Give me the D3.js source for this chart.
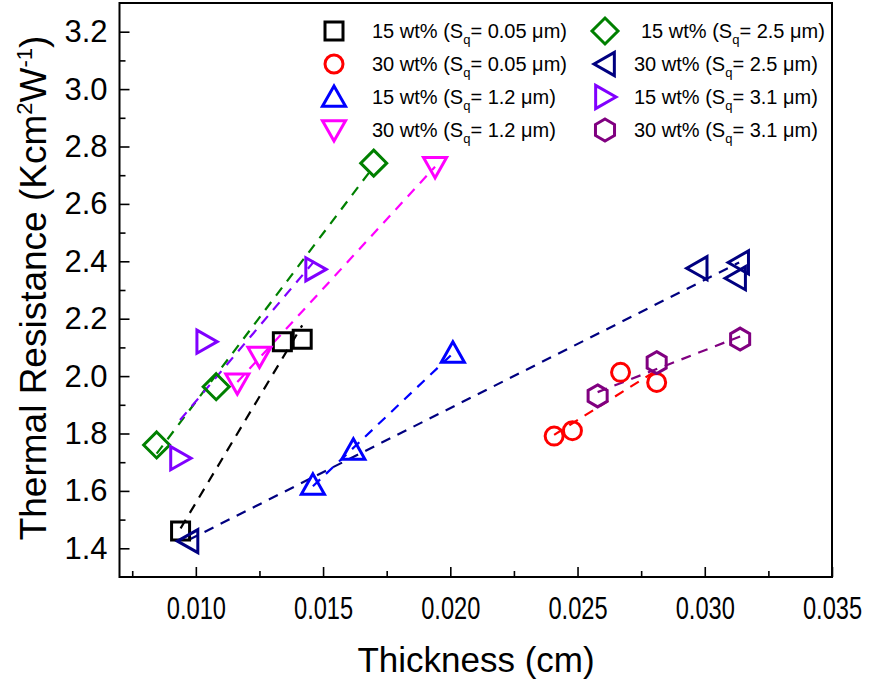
<!DOCTYPE html>
<html><head><meta charset="utf-8">
<script src="https://cdn.jsdelivr.net/npm/d3@7"></script>
<style>
body{margin:0;background:#fff}
svg text{font-family:"Liberation Sans",Arial,Helvetica,sans-serif;fill:#000}
</style>
</head><body>
<svg id="chart" width="880" height="686"></svg>
<script>
// ---------- data ----------
const xTickValues = [0.010, 0.015, 0.020, 0.025, 0.030, 0.035];
const xMinorTicks = [0.0075, 0.0125, 0.0175, 0.0225, 0.0275, 0.0325];
const yTickValues = [1.4, 1.6, 1.8, 2.0, 2.2, 2.4, 2.6, 2.8, 3.0, 3.2];
const yMinorTicks = [1.5, 1.7, 1.9, 2.1, 2.3, 2.5, 2.7, 2.9, 3.1];

const seriesLabels = ["15 wt%", "30 wt%", "15 wt%", "30 wt%", "15 wt%", "30 wt%", "15 wt%", "30 wt%"];
const seriesSq = ["0.05", "0.05", "1.2", "1.2", "2.5", "2.5", "3.1", "3.1"];
const seriesColors = ["#000000", "#ff0000", "#0000ff", "#ff00ff", "#008000", "#000080", "#8000ff", "#800080"];
const seriesShapes = ["square", "circle", "triUp", "triDown", "diamond", "triLeft", "triRight", "hexagon"];

const s15_005_x = [0.00940, 0.01340, 0.01418];
const s15_005_y = [1.460, 2.120, 2.128];
const s30_005_x = [0.02408, 0.02480, 0.02669, 0.02811];
const s30_005_y = [1.791, 1.810, 2.013, 1.978];
const s15_12_x = [0.01460, 0.01619, 0.02010];
const s15_12_y = [1.621, 1.743, 2.081];
const s30_12_x = [0.01163, 0.01250, 0.01940];
const s30_12_y = [1.975, 2.068, 2.729];
const s15_25_x = [0.00846, 0.01080, 0.01699];
const s15_25_y = [1.760, 1.963, 2.742];
const s30_25_x = [0.00971, 0.02972, 0.03135, 0.03123];
const s30_25_y = [1.425, 2.376, 2.396, 2.341];
const s15_31_x = [0.00938, 0.01041, 0.01469];
const s15_31_y = [1.714, 2.120, 2.372];
const s30_31_x = [0.02579, 0.02811, 0.03139];
const s30_31_y = [1.931, 2.047, 2.129];

const seriesX = [s15_005_x, s30_005_x, s15_12_x, s30_12_x, s15_25_x, s30_25_x, s15_31_x, s30_31_x];
const seriesY = [s15_005_y, s30_005_y, s15_12_y, s30_12_y, s15_25_y, s30_25_y, s15_31_y, s30_31_y];

// ---------- layout ----------
const svg = d3.select("#chart");
const L = 119.5, R = 832, T = 3, B = 577;
const x = d3.scaleLinear().domain([0.007, 0.035]).range([L, R]);
const y = d3.scaleLinear().domain([1.3, 3.3]).range([B, T]);

// marker path generator
function markerPath(shape) {
  const p = d3.path();
  if (shape === "square") { const h = 9; p.rect(-h, -h, 2*h, 2*h); return p.toString(); }
  if (shape === "circle") { p.arc(0, 0, 9, 0, 2*Math.PI); p.closePath(); return p.toString(); }
  if (shape === "diamond") { const h = 13; p.moveTo(0,-h); p.lineTo(h,0); p.lineTo(0,h); p.lineTo(-h,0); p.closePath(); return p.toString(); }
  if (shape === "hexagon") {
    const r = 11;
    for (let i = 0; i < 6; i++) { const a = -Math.PI/2 + i*Math.PI/3; const px = r*Math.cos(a), py = r*Math.sin(a); if (i===0) p.moveTo(px,py); else p.lineTo(px,py); }
    p.closePath(); return p.toString();
  }
  const h = 11;
  const pts = [[0,-h],[h*1.05,h*0.85],[-h*1.05,h*0.85]];
  const rot = {triUp:0, triDown:180, triLeft:-90, triRight:90}[shape];
  const a = rot*Math.PI/180;
  pts.forEach((q,i) => { const px = q[0]*Math.cos(a) - q[1]*Math.sin(a); const py = q[0]*Math.sin(a) + q[1]*Math.cos(a); if (i===0) p.moveTo(px,py); else p.lineTo(px,py); });
  p.closePath(); return p.toString();
}

// ---------- axes ----------
const xAxis = d3.axisBottom(x).tickValues(xTickValues).tickFormat(d3.format(".3f")).tickSizeInner(-10).tickSizeOuter(0).tickPadding(18);
const gx = svg.append("g").attr("transform", `translate(0,${B})`).call(xAxis);
gx.select(".domain").remove();
gx.selectAll(".tick line").attr("stroke", "#000").attr("stroke-width", 1.6);
gx.selectAll(".tick text").attr("font-size", 32).attr("transform", "scale(0.74,1)").attr("dy", "0.74em");

const xMinor = d3.axisBottom(x).tickValues(xMinorTicks).tickFormat("").tickSizeInner(-6).tickSizeOuter(0);
const gxm = svg.append("g").attr("transform", `translate(0,${B})`).call(xMinor);
gxm.select(".domain").remove();
gxm.selectAll(".tick line").attr("stroke", "#000").attr("stroke-width", 1.6);

const yAxis = d3.axisLeft(y).tickValues(yTickValues).tickFormat(d3.format(".1f")).tickSizeInner(-10).tickSizeOuter(0).tickPadding(12);
const gy = svg.append("g").attr("transform", `translate(${L},0)`).call(yAxis);
gy.select(".domain").remove();
gy.selectAll(".tick line").attr("stroke", "#000").attr("stroke-width", 1.6);
gy.selectAll(".tick text").attr("font-size", 31);

const yMinor = d3.axisLeft(y).tickValues(yMinorTicks).tickFormat("").tickSizeInner(-6).tickSizeOuter(0);
const gym = svg.append("g").attr("transform", `translate(${L},0)`).call(yMinor);
gym.select(".domain").remove();
gym.selectAll(".tick line").attr("stroke", "#000").attr("stroke-width", 1.6);

// frame
svg.append("rect").attr("x", L).attr("y", T).attr("width", R - L).attr("height", B - T)
  .attr("fill", "none").attr("stroke", "#000").attr("stroke-width", 2);

// axis titles
svg.append("text").attr("x", 476).attr("y", 672).attr("text-anchor", "middle")
  .attr("font-size", 35).text("Thickness (cm)");

const yt = svg.append("text").attr("transform", "translate(46,288) rotate(-90)").attr("text-anchor", "middle").attr("font-size", 37);
yt.append("tspan").text("Thermal Resistance (Kcm");
yt.append("tspan").attr("font-size", 22).attr("dy", -14).text("2");
yt.append("tspan").attr("dy", 14).text("W");
yt.append("tspan").attr("font-size", 22).attr("dy", -14).text("-1");
yt.append("tspan").attr("dy", 14).text(")");

// ---------- fit lines (least squares over each series' x-range) ----------
const plot = svg.append("g");
seriesX.forEach((xs, i) => {
  const ys = seriesY[i];
  const n = xs.length, mx = d3.mean(xs), my = d3.mean(ys);
  let sxy = 0, sxx = 0;
  for (let k = 0; k < n; k++) { sxy += (xs[k]-mx)*(ys[k]-my); sxx += (xs[k]-mx)**2; }
  const slope = sxy / sxx, icpt = my - slope*mx;
  const x0 = d3.min(xs), x1 = d3.max(xs);
  plot.append("line")
    .attr("x1", x(x0)).attr("y1", y(icpt + slope*x0))
    .attr("x2", x(x1)).attr("y2", y(icpt + slope*x1))
    .attr("stroke", seriesColors[i]).attr("stroke-width", 2.2).attr("stroke-dasharray", "10,8");
});

// ---------- markers ----------
seriesX.forEach((xs, i) => {
  const pts = xs.map((v, k) => [v, seriesY[i][k]]);
  plot.selectAll(null).data(pts).enter().append("path")
    .attr("d", markerPath(seriesShapes[i]))
    .attr("transform", d => `translate(${x(d[0])},${y(d[1])})`)
    .attr("fill", "none").attr("stroke", seriesColors[i]).attr("stroke-width", 3);
});

// ---------- legend ----------
const legX = [334, 605], legTextX = [372, 634], legY = [31, 64, 97, 130];
seriesLabels.forEach((lab, i) => {
  const col = Math.floor(i / 4), row = i % 4;
  const g = svg.append("g").attr("transform", `translate(${legX[col]},${legY[row]})`);
  g.append("path").attr("d", markerPath(seriesShapes[i])).attr("fill", "none")
    .attr("stroke", seriesColors[i]).attr("stroke-width", 3);
  const t = svg.append("text").attr("x", legTextX[col] + (i === 4 ? 7 : 0)).attr("y", legY[row] + 7).attr("font-size", 20);
  t.append("tspan").text(lab + " (S");
  t.append("tspan").attr("font-size", 13).attr("dy", 6).text("q");
  t.append("tspan").attr("dy", -6).text("= " + seriesSq[i] + " μm)");
});
</script>
</body></html>
